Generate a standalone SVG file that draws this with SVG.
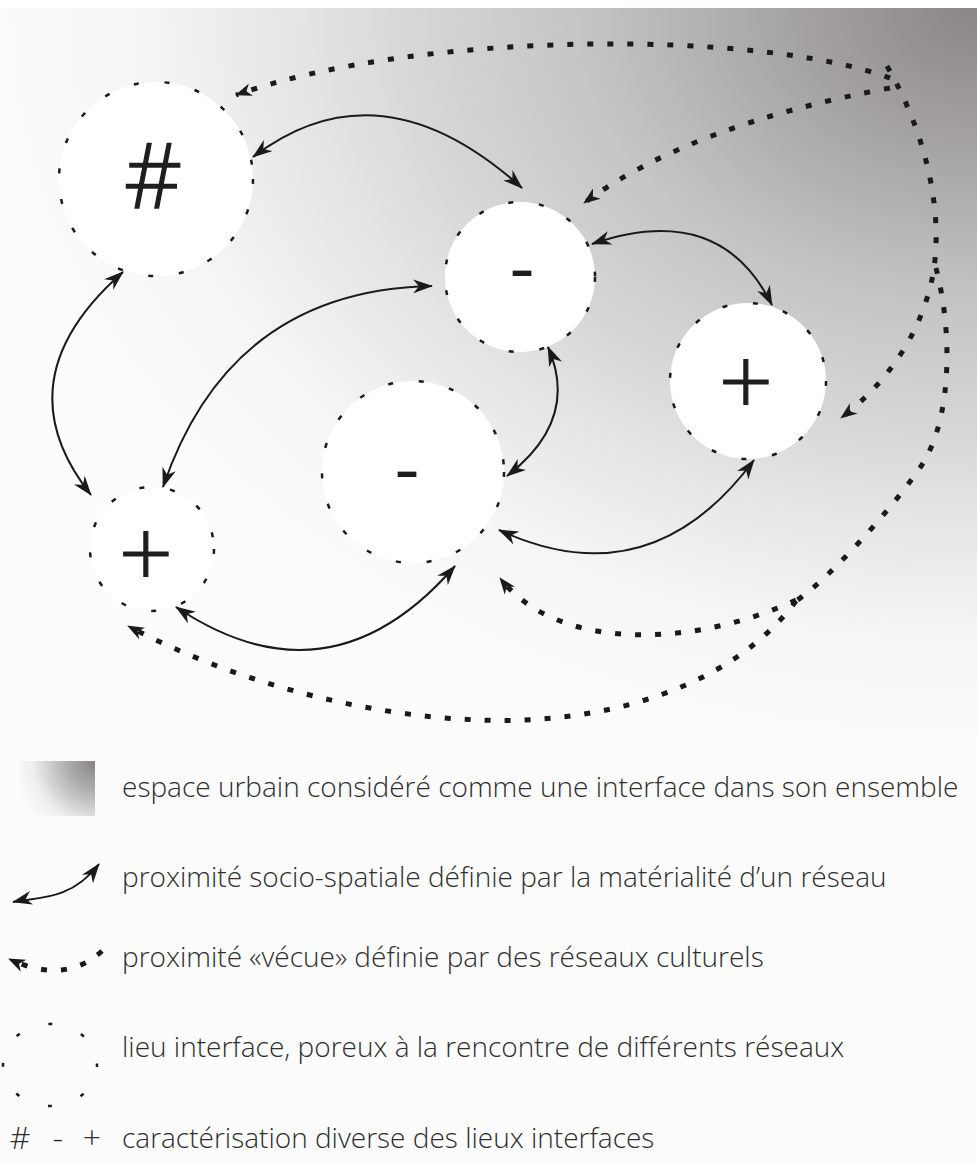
<svg xmlns="http://www.w3.org/2000/svg" width="977" height="1164" viewBox="0 0 977 1164">
<defs>
<radialGradient id="bg" gradientUnits="userSpaceOnUse" cx="977" cy="8" r="1000" gradientTransform="translate(977 8) scale(1 0.75) translate(-977 -8)">
<stop offset="0" stop-color="#8a8686"/>
<stop offset="0.2" stop-color="#a8a5a5"/>
<stop offset="0.4" stop-color="#c6c5c5"/>
<stop offset="0.55" stop-color="#d5d5d5"/>
<stop offset="0.7" stop-color="#e7e7e7"/>
<stop offset="0.85" stop-color="#f6f6f6"/>
<stop offset="1" stop-color="#fcfcfc"/>
</radialGradient>
<radialGradient id="lg" gradientUnits="userSpaceOnUse" cx="96" cy="761" r="85">
<stop offset="0" stop-color="#858181"/>
<stop offset="0.35" stop-color="#b0aeae"/>
<stop offset="0.75" stop-color="#efefef"/>
<stop offset="1" stop-color="#fcfcfc"/>
</radialGradient>
<marker id="ah" viewBox="0 0 20 14" refX="19" refY="7" markerWidth="20" markerHeight="14" markerUnits="userSpaceOnUse" orient="auto-start-reverse">
<path d="M0,0 L20,7 L0,14 L6,7 Z" fill="#1a1a1a"/>
</marker>
<marker id="ad" viewBox="0 0 17 13" refX="16" refY="6.5" markerWidth="17" markerHeight="13" markerUnits="userSpaceOnUse" orient="auto-start-reverse">
<path d="M0,0 L17,6.5 L0,13 L5,6.5 Z" fill="#1a1a1a"/>
</marker>
</defs>
<style>
.node{fill:#ffffff;stroke:#1a1a1a;stroke-width:2.5;stroke-dasharray:5 26}
.sym{font-family:"Open Sans","DejaVu Sans",sans-serif;font-weight:300;fill:#1e1e1e;stroke:#1e1e1e;text-anchor:middle}
.minus{font-family:"Liberation Serif","Times New Roman",serif;fill:#1e1e1e;text-anchor:middle}
.solid{fill:none;stroke:#1a1a1a;stroke-width:2;marker-start:url(#ah);marker-end:url(#ah)}
.dot{fill:none;stroke:#1a1a1a;stroke-width:5;stroke-dasharray:6 14}
.dotarrow{marker-end:url(#ad)}
.leg{font-family:"Open Sans","Noto Sans",sans-serif;font-weight:300;font-size:28px;fill:#2e2e2e}
.legsym{font-family:"Open Sans","Noto Sans",sans-serif;font-weight:300;font-size:32px;fill:#2e2e2e;text-anchor:middle}
</style>
<rect x="0" y="0" width="977" height="1164" fill="#fcfcfc"/>
<rect x="0" y="0" width="977" height="8" fill="#ffffff"/>
<rect x="0" y="8" width="977" height="745" fill="url(#bg)"/>

<g id="node-hash">
<circle class="node" cx="156" cy="179" r="97"/>
<text class="sym" x="153" y="208" font-size="90" stroke-width="1.3">#</text>
</g>
<g id="node-minus-top">
<circle class="node" cx="520" cy="277" r="75"/>
<text class="minus" x="522" y="290" font-size="72">-</text>
</g>
<g id="node-plus-right">
<circle class="node" cx="748" cy="381" r="78"/>
<text class="sym" x="746" y="416" font-size="96" stroke-width="1">+</text>
</g>
<g id="node-minus-low">
<circle class="node" cx="413" cy="472" r="91"/>
<text class="minus" x="407" y="491" font-size="72">-</text>
</g>
<g id="node-plus-left">
<circle class="node" cx="152" cy="549" r="62"/>
<text class="sym" x="146" y="588" font-size="96" stroke-width="1">+</text>
</g>

<g id="connectors">
<path class="solid" d="M253,157 Q380,60 522,188"/>
<path class="solid" d="M592,244 Q720,200 772,305"/>
<path class="solid" d="M432,286 Q230,290 163,487"/>
<path class="solid" d="M123,272 Q0,380 91,495"/>
<path class="solid" d="M548,347 Q580,420 507,476"/>
<path class="solid" d="M499,530 Q650,600 754,460"/>
<path class="solid" d="M176,607 Q330,710 455,566"/>

<path class="dot dotarrow" d="M890,78 C760,30 420,30 236,95"/>
<path class="dot dotarrow" d="M890,88 Q690,125 584,203"/>
<path class="dot dotarrow" d="M887,66 C930,140 948,230 928,295 C915,340 885,385 841,418"/>
<path class="dot" d="M936,268 C952,330 952,410 926,458 C911,486 835,575 796,601"/>
<path class="dot dotarrow" d="M796,600 C700,645 560,655 500,578"/>
<path class="dot dotarrow" d="M796,601 C730,690 600,725 480,720 C360,716 230,680 128,626"/>
</g>

<g id="legend">
<rect x="20" y="761" width="75" height="55" fill="url(#lg)"/>
<text class="leg" x="122" y="797">espace urbain considéré comme une interface dans son ensemble</text>
<path class="solid" d="M13,902 C35,897 70,902 99,864"/>
<text class="leg" x="122" y="887">proximité socio-spatiale définie par la matérialité d’un réseau</text>
<path class="dot dotarrow" d="M102,951 Q65,985 9,959"/>
<text class="leg" x="122" y="967">proximité «vécue» définie par des réseaux culturels</text>
<ellipse cx="50" cy="1065" rx="47" ry="41" fill="none" stroke="#1a1a1a" stroke-width="2.5" stroke-dasharray="4 30.6" stroke-dashoffset="2"/>
<text class="leg" x="122" y="1057">lieu interface, poreux à la rencontre de différents réseaux</text>
<text class="legsym" x="20" y="1149">#</text>
<text class="legsym" x="58" y="1149">-</text>
<text class="legsym" x="92" y="1149">+</text>
<text class="leg" x="122" y="1148">caractérisation diverse des lieux interfaces</text>
</g>
</svg>
